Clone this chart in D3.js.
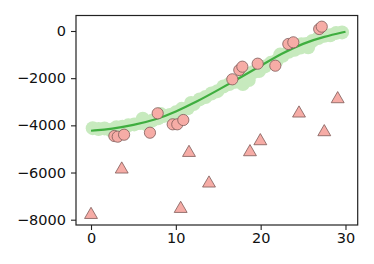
<!DOCTYPE html>
<html>
<head>
<meta charset="utf-8">
<script src="https://cdn.jsdelivr.net/npm/d3@7"></script>
<style>
  body { margin: 0; background: #fff; }
  text { font-family: "DejaVu Sans", sans-serif; }
</style>
</head>
<body>
<div id="chart"></div>
<script>
const width = 374;
const height = 264;
const margin = { top: 15.5, left: 76, bottom: 39, right: 16.3 };

// x positions / values
const circleX = [2.75, 3.15, 3.9, 6.95, 7.86, 9.63, 10.17, 10.88, 16.66, 17.48, 17.84, 19.65, 21.73, 23.26, 23.85, 26.9, 27.2];
const circleY = [-4452, -4480, -4397, -4312, -3490, -3956, -3956, -3774, -2048, -1654, -1513, -1386, -1471, -551, -480, 85, 183];

const triX = [0, 3.62, 10.57, 11.55, 13.91, 18.74, 19.96, 24.52, 27.5, 29.08];
const triY = [-7790, -5864, -7534, -5160, -6458, -5130, -4664, -3490, -4282, -2883];

const fitX = [0, 2.5, 5, 7.5, 10, 12.5, 15, 17.5, 20, 22.5, 25, 27.5, 30];
const fitY = [-4230, -4150, -3990, -3780, -3420, -2990, -2500, -1990, -1480, -950, -520, -240, -30];

const bandX = [0.2, 0.9, 1.6, 2.3, 3.0, 3.7, 4.4, 5.1, 5.8, 6.5, 7.2, 7.9, 8.6, 9.3, 10.0, 10.7, 11.4, 12.1, 12.8, 13.5, 14.2, 14.9, 15.6, 16.3, 17.0, 17.7, 18.4, 19.1, 19.8, 20.5, 21.2, 21.9, 22.6, 23.3, 24.0, 24.7, 25.4, 26.1, 26.8, 27.5, 28.2, 28.9, 29.6,
               8.2, 11.8, 17.9, 18.6, 22.3, 24.8, 25.6, 6.1];
const bandY = [-4120, -4160, -4130, -4200, -4080, -4060, -4000, -3960, -3900, -3950, -3800, -3700, -3600, -3560, -3450, -3300, -3280, -3100, -2900, -2800, -2650, -2550, -2350, -2250, -2150, -2050, -1900, -1750, -1700, -1500, -1350, -1250, -1050, -880, -800, -700, -550, -420, -300, -200, -180, -80, -60,
               -3520, -3050, -2250, -2080, -1000, -560, -690, -3720];

const xTicks = [0, 10, 20, 30];
const yTicks = [0, -2000, -4000, -6000, -8000];

const xScale = d3.scaleLinear().domain([-1.77, 31.44]).range([margin.left, width - margin.right]);
const yScale = d3.scaleLinear().domain([-8225, 657]).range([height - margin.bottom, margin.top]);

const svg = d3.select("#chart").append("svg").attr("width", width).attr("height", height);

// light green band of noisy samples
svg.append("g").selectAll("circle")
  .data(bandX.map((x, i) => ({ x, y: bandY[i] })))
  .join("circle")
  .attr("cx", d => xScale(d.x))
  .attr("cy", d => yScale(d.y))
  .attr("r", 7)
  .attr("fill", "#c7eabe");

// fitted line
const line = d3.line()
  .x((d, i) => xScale(fitX[i]))
  .y(d => yScale(d))
  .curve(d3.curveBasis);

svg.append("path")
  .datum(fitY)
  .attr("d", line)
  .attr("fill", "none")
  .attr("stroke", "#3fae3f")
  .attr("stroke-width", 2.2);

// triangles
const tri = d3.symbol().type(d3.symbolTriangle).size(72);
svg.append("g").selectAll("path")
  .data(triX.map((x, i) => ({ x, y: triY[i] })))
  .join("path")
  .attr("transform", d => `translate(${xScale(d.x)},${yScale(d.y)})`)
  .attr("d", tri)
  .attr("fill", "#f6aca6")
  .attr("stroke", "#7d5a58")
  .attr("stroke-width", 0.8);

// circles
svg.append("g").selectAll("circle")
  .data(circleX.map((x, i) => ({ x, y: circleY[i] })))
  .join("circle")
  .attr("cx", d => xScale(d.x))
  .attr("cy", d => yScale(d.y))
  .attr("r", 5.6)
  .attr("fill", "#f6aca6")
  .attr("stroke", "#7d5a58")
  .attr("stroke-width", 0.8);

const fmt = d => d < 0 ? "\u2212" + Math.abs(d) : String(d);

const xAxis = svg.append("g")
  .attr("transform", `translate(0,${height - margin.bottom})`)
  .call(d3.axisBottom(xScale).tickValues(xTicks).tickSize(5).tickPadding(3).tickFormat(fmt));
const yAxis = svg.append("g")
  .attr("transform", `translate(${margin.left},0)`)
  .call(d3.axisLeft(yScale).tickValues(yTicks).tickSize(5).tickPadding(5).tickFormat(fmt));

[xAxis, yAxis].forEach(a => {
  a.select(".domain").remove();
  a.selectAll("line").attr("stroke", "#222").attr("stroke-width", 1.1);
  a.selectAll("text").style("font-size", "14.5px").attr("fill", "#111");
});

// frame
svg.append("rect")
  .attr("x", margin.left)
  .attr("y", margin.top)
  .attr("width", width - margin.left - margin.right)
  .attr("height", height - margin.top - margin.bottom)
  .attr("fill", "none")
  .attr("stroke", "#222")
  .attr("stroke-width", 1.2);
</script>
</body>
</html>
